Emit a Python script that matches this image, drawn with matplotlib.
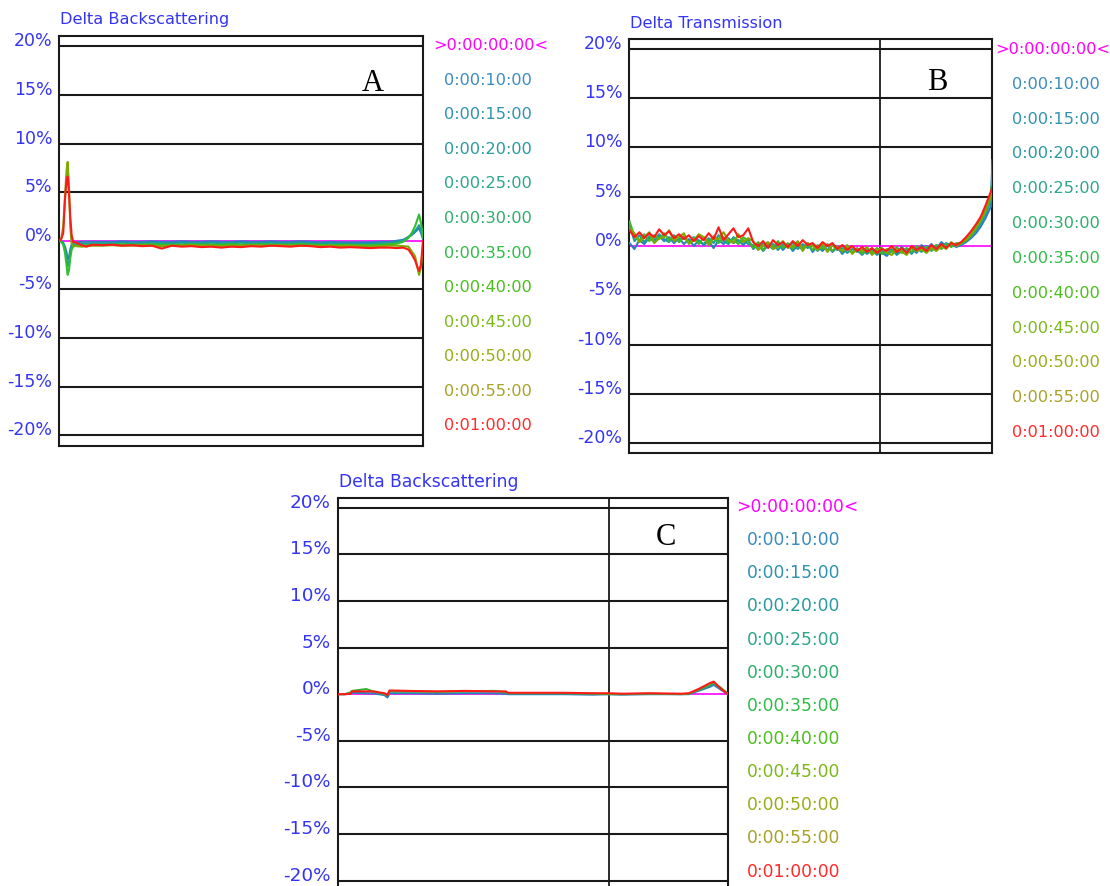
import numpy as np
import matplotlib
matplotlib.use("Agg")
import matplotlib.pyplot as plt

plt.rcParams['font.family'] = ['DejaVu Sans']

# --------------------------------------------------
# Legend (scan times) and colours
# --------------------------------------------------
time_labels = [">0:00:00:00<", "0:00:10:00", "0:00:15:00", "0:00:20:00",
               "0:00:25:00", "0:00:30:00", "0:00:35:00", "0:00:40:00",
               "0:00:45:00", "0:00:50:00", "0:00:55:00", "0:01:00:00"]
time_colors = ["#ff00ff", "#3a8cc0", "#2f92b0", "#2a9a9e", "#2ea58c",
               "#2eae6c", "#30bc48", "#4cbf1c", "#7cb81a", "#98ad18",
               "#a8a22a", "#ff2a2a"]

y_ticks = [20, 15, 10, 5, 0, -5, -10, -15, -20]
grid_levels = [20, 15, 10, 5, -5, -10, -15, -20]

# --------------------------------------------------
# Panel A: Delta Backscattering (height in mm, delta in %)
# --------------------------------------------------
x_a = [0.0, 0.3, 0.6, 0.86, 1.1, 1.27, 1.47, 1.66, 1.87, 2.1, 2.6, 3.4, 4.1, 5.0,
       6.5, 8.0, 9.5, 11.0, 12.5, 14.0, 15.5, 17.0, 18.5, 20.0, 21.5, 23.0, 24.5,
       26.0, 27.5, 29.0, 30.5, 32.0, 33.5, 35.0, 36.5, 38.0, 39.5, 41.0, 42.5,
       44.0, 45.5, 47.0, 48.5,
       50.0, 51.0, 52.0, 52.8, 53.3, 53.8, 54.1, 54.4, 54.7, 55.0]
a_t10 = [0.0, 0.0, -0.2, -0.6, -1.2, -1.9, -1.7, -0.9, -0.4, -0.2, -0.15, -0.1, -0.1, -0.1,
         -0.1, -0.1, -0.05, -0.1, -0.1, -0.05, -0.1, -0.1, -0.05, -0.1, -0.1, -0.05, -0.1,
         -0.1, -0.05, -0.1, -0.1, -0.05, -0.1, -0.1, -0.05, -0.1, -0.15, -0.1, -0.15,
         -0.15, -0.15, -0.15, -0.1,
         -0.1, 0.0, 0.1, 0.4, 0.6, 0.9, 1.1, 1.3, 0.8, 0.2]
a_t20 = [0.0, -0.1, -0.3, -0.9, -1.8, -2.6, -2.3, -1.3, -0.6, -0.4, -0.35, -0.3, -0.3, -0.3,
         -0.25, -0.25, -0.2, -0.25, -0.25, -0.2, -0.25, -0.25, -0.2, -0.25, -0.25, -0.2, -0.25,
         -0.25, -0.2, -0.25, -0.25, -0.2, -0.25, -0.25, -0.2, -0.25, -0.3, -0.25, -0.3,
         -0.3, -0.3, -0.3, -0.25,
         -0.2, -0.15, 0.0, 0.4, 0.7, 1.0, 1.3, 1.6, 1.1, 0.3]
a_t40 = [0.0, -0.1, -0.4, -1.2, -2.5, -3.5, -3.0, -1.8, -0.9, -0.6, -0.5, -0.5, -0.45, -0.4,
         -0.4, -0.4, -0.35, -0.4, -0.4, -0.35, -0.4, -0.4, -0.4, -0.35, -0.4, -0.4, -0.4,
         -0.35, -0.4, -0.4, -0.35, -0.4, -0.4, -0.4, -0.35, -0.4, -0.4, -0.45, -0.4,
         -0.45, -0.45, -0.45, -0.4,
         -0.35, -0.3, -0.1, 0.3, 0.8, 1.5, 2.1, 2.7, 1.8, 0.4]
a_t50 = [0.0, 0.2, 1.5, 4.5, 7.2, 8.1, 5.5, 1.5, -0.3, -0.5, -0.55, -0.6, -0.55, -0.5,
         -0.5, -0.45, -0.5, -0.5, -0.45, -0.5, -0.55, -0.5, -0.5, -0.45, -0.5, -0.5, -0.55,
         -0.5, -0.5, -0.45, -0.5, -0.5, -0.45, -0.5, -0.5, -0.5, -0.55, -0.5, -0.55,
         -0.5, -0.55, -0.6, -0.55,
         -0.5, -0.5, -0.55, -0.6, -1.1, -1.6, -2.6, -3.5, -2.7, -0.6]
a_t60 = [0.0, 0.2, 0.8, 4.2, 6.3, 6.6, 4.9, 2.5, 0.6, -0.1, -0.2, -0.45, -0.6, -0.4,
         -0.45, -0.4, -0.5, -0.45, -0.55, -0.5, -0.8, -0.5, -0.6, -0.55, -0.65, -0.6, -0.7,
         -0.6, -0.65, -0.55, -0.6, -0.5, -0.55, -0.6, -0.5, -0.55, -0.65, -0.6, -0.7,
         -0.65, -0.7, -0.75, -0.7,
         -0.7, -0.75, -0.7, -0.9, -1.4, -2.0, -2.6, -3.1, -2.4, 0.0]

# --------------------------------------------------
# Panel B: Delta Transmission
# --------------------------------------------------
x_b = [0.0, 0.75, 1.5, 2.25, 3.0, 3.75, 4.5, 5.25, 6.0, 6.75, 7.5, 8.25, 9.0, 9.75,
       10.5, 11.25, 12.0, 12.75, 13.5, 14.25, 15.0, 15.75, 16.5, 17.25, 18.0, 18.75,
       19.5, 20.25, 21.0, 21.75, 22.5, 23.25, 24.0, 24.75, 25.5, 26.25, 27.0, 27.75,
       28.5, 29.25, 30.0, 30.75, 31.5, 32.25, 33.0, 33.75, 34.5, 35.25, 36.0, 36.75,
       37.5, 38.25, 39.0, 39.75, 40.5, 41.25, 42.0, 42.75, 43.5, 44.25, 45.0, 45.75,
       46.5, 47.25, 48.0, 48.75, 49.5, 50.25, 51.0, 51.75, 52.5, 53.25, 54.0, 54.75, 55.0]
b_t10 = [0.3, -0.3, 0.6, 0.2, 0.9, 0.4, 1.0, 0.5, 0.9, 0.3, 0.8, 0.2, 0.7, 0.0,
         0.6, 0.1, 0.5, -0.2, 0.6, 0.2, 0.8, 0.3, 0.6, 0.1, 0.7, -0.3,
         0.2, -0.5, 0.1, -0.3, 0.3, -0.4, 0.2, -0.5, 0.1, -0.4, 0.3, -0.6,
         0.0, -0.5, 0.1, -0.6, -0.1, -0.8, -0.2, -0.6, -0.4, -0.9, -0.3, -0.8,
         -0.5, -0.7, -1.0, -0.4, -0.8, -0.1, -0.6, -0.2, -0.7, 0.1, -0.4, 0.2,
         -0.3, 0.4, 0.0, 0.3, -0.1, 0.1, 0.4, 0.8, 1.3, 2.0, 2.9, 4.0, 8.7]
b_t20 = [2.2, 0.5, 1.1, 0.4, 1.0, 0.6, 1.2, 0.7, 0.4, 1.1, 0.6, 1.0, 0.4, 0.9,
         0.5, 0.2, 0.8, 0.3, 1.1, 0.5, 0.2, 0.9, 0.5, 0.6, 0.2, 0.1,
         -0.3, 0.3, -0.1, 0.2, -0.4, 0.2, 0.0, 0.3, -0.3, 0.2, -0.2, 0.1,
         -0.5, 0.0, -0.4, 0.1, -0.4, -0.2, -0.7, -0.3, -0.6, -0.4, -0.8, -0.4,
         -0.9, -0.5, -0.8, -0.3, -0.9, -0.5, -0.3, -0.8, -0.2, -0.6, 0.0, -0.5,
         0.1, -0.2, 0.3, 0.0, 0.2, 0.3, 0.5, 1.0, 1.6, 2.3, 3.3, 4.6, 7.5]
b_t35 = [2.5, 1.0, 0.6, 1.2, 0.5, 1.1, 0.7, 1.3, 0.6, 1.0, 0.4, 0.9, 0.3, 0.8,
         0.2, 0.9, 0.4, 1.0, 0.3, 0.9, 0.4, 0.7, 0.2, 0.9, 0.5, -0.2,
         0.4, -0.4, 0.3, -0.1, 0.5, -0.2, 0.3, -0.3, 0.4, -0.2, 0.2, -0.4,
         0.1, -0.3, 0.2, -0.5, 0.0, -0.6, -0.1, -0.7, -0.2, -0.8, -0.3, -0.7,
         -0.2, -0.8, -0.3, -0.6, -0.1, -0.7, -0.2, -0.6, 0.0, -0.5, -0.1, -0.4,
         0.1, -0.3, 0.2, -0.1, 0.3, 0.2, 0.7, 1.2, 2.0, 2.8, 3.8, 5.0, 6.8]
b_t50 = [1.8, 1.3, 0.4, 0.9, 1.4, 0.3, 0.8, 0.9, 1.6, 0.5, 0.9, 1.3, 0.2, 0.6,
         1.2, 0.9, 0.1, 0.8, 0.7, 1.4, 0.6, 0.3, 1.2, 0.4, 0.8, 0.5,
         -0.4, 0.1, 0.4, -0.3, -0.1, 0.5, -0.2, 0.0, 0.5, -0.5, 0.3, 0.0,
         -0.4, 0.2, -0.6, 0.1, -0.2, -0.5, 0.1, -0.8, -0.3, -0.5, -0.1, -0.9,
         -0.4, -0.2, -0.7, -0.9, -0.3, -0.6, -0.9, -0.1, -0.5, -0.3, -0.7, -0.2,
         -0.5, 0.0, -0.3, 0.4, 0.0, 0.3, 0.6, 1.1, 1.8, 2.6, 3.6, 5.1, 6.4]
b_t60 = [1.6, 0.9, 1.4, 0.8, 1.3, 0.9, 1.7, 1.1, 1.5, 0.8, 1.2, 0.7, 1.1, 0.5,
         1.0, 0.6, 1.3, 0.7, 1.9, 0.6, 1.2, 1.8, 0.9, 1.1, 1.8, 0.4,
         0.0, 0.5, -0.2, 0.6, 0.1, 0.4, -0.1, 0.5, 0.0, 0.6, 0.1, 0.3,
         -0.2, 0.4, 0.0, 0.3, -0.3, 0.1, -0.4, 0.0, -0.5, -0.1, -0.6, -0.2,
         -0.7, -0.3, -0.5, 0.0, -0.6, -0.2, -0.7, 0.0, -0.4, -0.1, -0.5, 0.1,
         -0.3, 0.2, -0.2, 0.3, 0.1, 0.4, 0.9, 1.5, 2.2, 3.0, 4.2, 5.5, 6.0]

# --------------------------------------------------
# Panel C: Delta Backscattering
# --------------------------------------------------
x_c = [0.0, 1.0, 1.8, 2.0, 4.0, 5.0, 6.6, 7.0, 7.3, 10.0, 14.0, 18.0, 22.0, 23.7,
       24.0, 28.0, 32.0, 36.0, 38.3, 40.0, 44.0, 48.4, 49.5, 51.0, 52.5, 53.0, 54.0, 55.0]
c_t10 = [0.0, 0.0, 0.05, 0.15, 0.1, 0.1, -0.1, -0.35, 0.1, 0.1, 0.05, 0.1, 0.1, 0.05,
         0.0, 0.0, 0.0, -0.05, 0.0, -0.05, 0.0, 0.0, 0.0, 0.4, 0.8, 1.0, 0.5, 0.0]
c_t35 = [0.0, 0.0, 0.2, 0.35, 0.55, 0.3, 0.0, -0.1, 0.3, 0.3, 0.25, 0.3, 0.35, 0.2,
         0.1, 0.1, 0.1, 0.05, 0.0, 0.0, 0.05, 0.0, 0.05, 0.5, 1.0, 1.2, 0.7, 0.05]
c_t60 = [0.0, 0.0, 0.05, 0.3, 0.3, 0.3, 0.1, -0.1, 0.4, 0.35, 0.3, 0.35, 0.3, 0.3,
         0.15, 0.15, 0.15, 0.1, 0.1, 0.05, 0.1, 0.05, 0.1, 0.6, 1.2, 1.35, 0.6, 0.0]

TICK_BLUE = "#3434f4"


def draw_panel(ax, title, letter, letter_pos, x, series, ylim, vline,
               legend_x, fs, tick_fs):
    ax.set_xlim(0, 55)
    ax.set_ylim(-ylim, ylim)
    ax.set_xticks([])
    ax.set_yticks([])
    for s in ax.spines.values():
        s.set_color("#1a1a1a")
        s.set_linewidth(1.5)

    for g in grid_levels:
        ax.axhline(g, color="#1a1a1a", lw=1.5, zorder=1)
    if vline is not None:
        ax.axvline(vline, color="#1a1a1a", lw=1.3, zorder=1)

    ax.axhline(0, color="#ff00ff", lw=1.2, zorder=2)
    for vals, col in series:
        ax.plot(x, vals, color=col, lw=1.5, zorder=3)

    # y labels sit a little above their grid line
    for v in y_ticks:
        ax.annotate(f"{v}%", xy=(0, v), xycoords=("axes fraction", "data"),
                    xytext=(-7, 5), textcoords="offset pixels",
                    ha="right", va="center", color=TICK_BLUE, fontsize=tick_fs,
                    annotation_clip=False)

    ax.annotate(title, xy=(0, 1), xycoords="axes fraction",
                xytext=(1, 16), textcoords="offset pixels",
                ha="left", va="center", color=TICK_BLUE, fontsize=fs)

    ax.text(letter_pos[0], letter_pos[1], letter, transform=ax.transAxes,
            ha="center", va="baseline", fontsize=22,
            fontfamily="Liberation Serif", color="black")

    for i, (lab, col) in enumerate(zip(time_labels, time_colors)):
        lx = legend_x[0] if i == 0 else legend_x[1]
        ax.text(lx, 1 - (0.024 + i * 0.0843), lab, transform=ax.transAxes,
                ha="left", va="center", color=col, fontsize=fs, clip_on=False)


fig = plt.figure(figsize=(11.1, 8.86), dpi=100)

ax_a = fig.add_axes([0.0534, 0.4970, 0.3277, 0.4624])
draw_panel(ax_a, "Delta Backscattering", "A", (0.861, 1 - 0.134), x_a,
           [(a_t10, "#2a7fbf"), (a_t20, "#1f9c9a"), (a_t40, "#2fbf2f"),
            (a_t50, "#7fa800"), (a_t60, "#ff1a1a")],
           21.05, None, (1.029, 1.058), 11.6, 12.5)

ax_b = fig.add_axes([0.5671, 0.4891, 0.3270, 0.4664])
draw_panel(ax_b, "Delta Transmission", "B", (0.849, 1 - 0.122), x_b,
           [(b_t10, "#2a7fbf"), (b_t20, "#1f9c9a"), (b_t35, "#3cb82c"),
            (b_t50, "#7fa800"), (b_t60, "#ff1a1a")],
           20.95, 38.0, (1.008, 1.055), 11.6, 12.5)

ax_c = fig.add_axes([0.3043, -0.0053, 0.3514, 0.4436])
draw_panel(ax_c, "Delta Backscattering", "C", (0.841, 1 - 0.120), x_c,
           [(c_t10, "#2a7fbf"), (c_t35, "#3cb030"), (c_t60, "#ff1a1a")],
           21.07, 38.3, (1.020, 1.049), 12.3, 13.2)

fig.savefig("out.png", dpi=100)
